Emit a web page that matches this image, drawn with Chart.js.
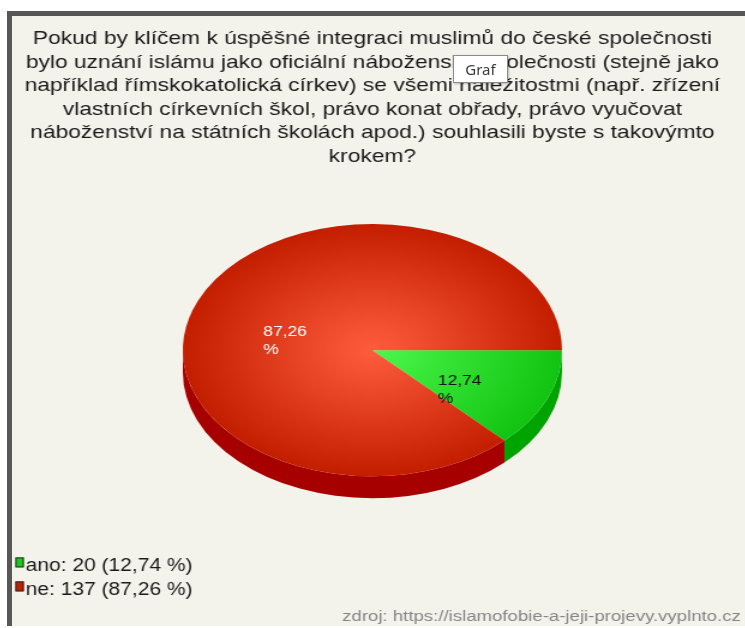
<!DOCTYPE html>
<html lang="cs">
<head>
<meta charset="utf-8">
<title>Graf</title>
<script src="https://cdn.jsdelivr.net/npm/chart.js@4.4.1/dist/chart.umd.min.js"></script>
<style>
  html, body { margin: 0; padding: 0; background: #fff; overflow: hidden; }
  body { width: 745px; height: 628px; position: relative; }
  /* grey frame + paper background of the survey widget */
  .paper { position: absolute; left: 12px; top: 16px; width: 733px; height: 610px; background: #f4f3eb; }
  .bar-top { position: absolute; left: 7px; top: 11px; width: 738px; height: 5px; background: #575757; }
  .bar-left { position: absolute; left: 7px; top: 11px; width: 5px; height: 615px; background: #575757; }
  /* the source picture is stretched ~1.2x horizontally, so the canvas is too */
  #chart {
    position: absolute; left: 4px; top: 0; width: 614px; height: 628px;
    transform: scaleX(1.2); transform-origin: 0 0;
  }
  /* browser tooltip caught in the screenshot */
  .tip {
    position: absolute; left: 453px; top: 55px; width: 53px; height: 26px;
    background: #fff; border: 1px solid #8a8a8a; box-shadow: 1px 1px 2px rgba(0,0,0,.25);
    font: 15px 'Noto Sans', 'DejaVu Sans', sans-serif; color: #3a3a3a;
    line-height: 26px; text-align: center;
  }
</style>
</head>
<body>
<div class="paper"></div>
<div class="bar-top"></div>
<div class="bar-left"></div>
<canvas id="chart" width="614" height="628"></canvas>
<div class="tip">Graf</div>
<script>
// ── data ──
const titleLines = [
  'Pokud by klíčem k úspěšné integraci muslimů do české společnosti',
  'bylo uznání islámu jako oficiální náboženské společnosti (stejně jako',
  'například římskokatolická církev) se všemi náležitostmi (např. zřízení',
  'vlastních církevních škol, právo konat obřady, právo vyučovat',
  'náboženství na státních školách apod.) souhlasili byste s takovýmto',
  'krokem?',
];
const answers = ['ano', 'ne'];
const counts = [20, 137];
const source = 'zdroj: https://islamofobie-a-jeji-projevy.vyplnto.cz';

// ── styles ──
const C = {
  ink: '#1a1a1a', muted: '#858585', keyBorder: '#2a2a2a',
  face: [['#4cf84c', '#12c412'], ['#ff5c3e', '#c41e00']],
  side: ['#00a400', '#a60000'],
  key: ['#1ec81e', '#c42000'],
  label: ['#111111', '#ffffff'],
};
const FONT = "'Liberation Sans', Arial, sans-serif";
const PIE_R = 158;

Chart.defaults.font.family = FONT;

const total = counts.reduce((a, b) => a + b, 0);
const pct = i => (counts[i] / total * 100).toFixed(2).replace('.', ',');

// radial shading of the top face, centred on the pie
function faceFill(ctx) {
  const chart = ctx.chart, a = chart.chartArea;
  const stops = C.face[ctx.dataIndex];
  if (!a) return stops[1];
  const cx = (a.left + a.right) / 2, cy = (a.top + a.bottom) / 2;
  const g = chart.ctx.createRadialGradient(cx, cy, 0, cx, cy, PIE_R);
  g.addColorStop(0, stops[0]);
  g.addColorStop(1, stops[1]);
  return g;
}

// Plugin: tilt the pie into an ellipse, give it a front wall, write % labels
const pie3d = {
  id: 'pie3d',
  beforeDatasetsDraw(chart, args, opts) {
    const arcs = chart.getDatasetMeta(0).data;
    const { ctx } = chart;
    if (!arcs.length) return;
    const { x: cx, y: cy, outerRadius: r } = arcs[0];
    const d = opts.depth / opts.tilt;
    ctx.save();
    ctx.translate(cx, cy);
    ctx.scale(1, opts.tilt);
    arcs.forEach((arc, i) => {
      const a0 = Math.max(arc.startAngle, 0), a1 = Math.min(arc.endAngle, Math.PI);
      if (a1 <= a0) return;
      ctx.beginPath();
      ctx.arc(0, 0, r, a0, a1);
      ctx.arc(0, d, r, a1, a0, true);
      ctx.closePath();
      ctx.fillStyle = C.side[i];
      ctx.fill();
    });
    ctx.restore();
    // squash the top face (restored in afterDatasetsDraw)
    ctx.save();
    ctx.translate(cx, cy); ctx.scale(1, opts.tilt); ctx.translate(-cx, -cy);
  },
  afterDatasetsDraw(chart, args, opts) {
    const { ctx } = chart;
    ctx.restore();
    const arcs = chart.getDatasetMeta(0).data;
    ctx.save();
    ctx.font = `${opts.labelSize}px ${FONT}`;
    ctx.textAlign = 'left'; ctx.textBaseline = 'alphabetic';
    arcs.forEach((arc, i) => {
      const p = arc.getCenterPoint();
      const y = arc.y + (p.y - arc.y) * opts.tilt;
      const lines = [pct(i), '%'];
      const left = p.x - ctx.measureText(lines[0]).width / 2;
      ctx.fillStyle = C.label[i];
      lines.forEach((t, j) => ctx.fillText(t, left, y + opts.labelDrop + j * opts.labelStep));
    });
    ctx.restore();
  },
};

// Plugin: stacked key under the pie, bottom-left (built-in legend can only stack at the side)
const keyList = {
  id: 'keyList',
  afterDraw(chart, args, opts) {
    const { ctx, chartArea: a } = chart;
    ctx.save();
    ctx.font = `${opts.size}px ${FONT}`;
    ctx.textAlign = 'left'; ctx.textBaseline = 'alphabetic';
    answers.forEach((ans, i) => {
      const top = a.bottom - opts.rise + i * opts.step;
      ctx.fillStyle = C.key[i];
      ctx.fillRect(opts.x, top, opts.boxW, opts.boxH);
      ctx.strokeStyle = C.keyBorder; ctx.lineWidth = 1;
      ctx.strokeRect(opts.x + 0.5, top + 0.5, opts.boxW - 1, opts.boxH - 1);
      ctx.fillStyle = C.ink;
      ctx.fillText(`${ans}: ${counts[i]} (${pct(i)} %)`, opts.x + opts.boxW + opts.gap, top + opts.baseline);
    });
    ctx.restore();
  },
};

new Chart(document.getElementById('chart'), {
  type: 'pie',
  data: {
    labels: answers,
    datasets: [{
      data: counts,
      backgroundColor: faceFill,
      borderWidth: 0,
      radius: PIE_R,
      rotation: 90,
      clip: false,
    }],
  },
  options: {
    responsive: false,
    animation: false,
    events: [],
    layout: { padding: 0 },
    plugins: {
      title: {
        display: true, text: titleLines, color: C.ink,
        font: { size: 19, weight: 'normal', lineHeight: 1.24 },
        // pie rides up under the long question
        padding: { top: 27, bottom: -70.5 },
      },
      subtitle: {
        display: true, position: 'bottom', align: 'end', text: source, color: C.muted,
        font: { size: 15.5, weight: 'normal' },
        padding: { top: 5, bottom: 2 },
      },
      legend: { display: false },
      tooltip: { enabled: false },
      pie3d: { tilt: 0.798, depth: 22, labelSize: 14.5, labelDrop: 10, labelStep: 18 },
      keyList: { x: 9.5, boxW: 7, boxH: 10, gap: 1.5, size: 17.5, rise: 45, step: 24, baseline: 13.3 },
    },
  },
  plugins: [pie3d, keyList],
});
</script>
</body>
</html>
